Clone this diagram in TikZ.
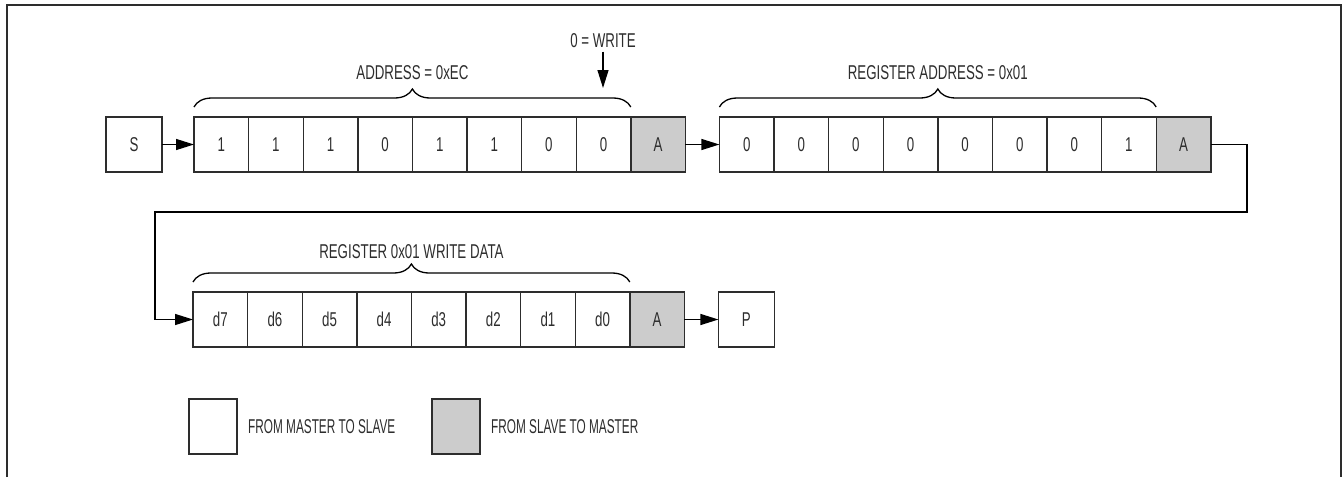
\documentclass[tikz,border=0pt]{standalone}
\usepackage{fontspec}
\setmainfont{Liberation Sans}[FakeStretch=0.665]
\newfontfamily\legendfont{Liberation Sans}[FakeStretch=0.59]
\usepackage{xcolor}
\usetikzlibrary{arrows.meta,positioning,decorations.pathreplacing}
\definecolor{mygray}{RGB}{204,204,204}
\definecolor{myink}{RGB}{45,45,45}

\begin{document}
\begin{tikzpicture}[x=1pt, y=-1pt, font=\fontsize{20}{24}\selectfont, text=myink]
    \tikzstyle{c}=[draw=myink, line width=1.4pt, minimum width=54.6pt, minimum height=55pt, inner sep=0pt, outer sep=0pt]
    \tikzstyle{ack}=[c, fill=mygray]
    \tikzstyle{arr}=[draw=black, line width=1.3pt, -{Triangle[length=18pt,width=11pt]}]
    \tikzstyle{br}=[draw=black, line width=1.3pt, decorate, decoration={brace, amplitude=18pt, raise=10pt}]
    \useasboundingbox (0,0) rectangle (1343,477);
    \draw[line width=2.5pt, myink] (7,477) -- (7,5) -- (1341,5) -- (1341,477);
    % address byte
    \node[c, minimum width=56pt] (s) at (134,144.5) {S};
    \node[c, right=32pt of s] (a7) {1};
    \node[c, right=0pt of a7] (a6) {1};
    \node[c, right=0pt of a6] (a5) {1};
    \node[c, right=0pt of a5] (a4) {0};
    \node[c, right=0pt of a4] (a3) {1};
    \node[c, right=0pt of a3] (a2) {1};
    \node[c, right=0pt of a2] (a1) {0};
    \node[c, right=0pt of a1] (a0) {0};
    \node[ack, right=0pt of a0] (ackA) {A};
    % register address byte
    \node[c, right=34pt of ackA] (r7) {0};
    \node[c, right=0pt of r7] (r6) {0};
    \node[c, right=0pt of r6] (r5) {0};
    \node[c, right=0pt of r5] (r4) {0};
    \node[c, right=0pt of r4] (r3) {0};
    \node[c, right=0pt of r3] (r2) {0};
    \node[c, right=0pt of r2] (r1) {0};
    \node[c, right=0pt of r1] (r0) {1};
    \node[ack, right=0pt of r0] (ackR) {A};
    % data byte
    \node[c, anchor=west] (d7) at (193,319.5) {d7};
    \node[c, right=0pt of d7] (d6) {d6};
    \node[c, right=0pt of d6] (d5) {d5};
    \node[c, right=0pt of d5] (d4) {d4};
    \node[c, right=0pt of d4] (d3) {d3};
    \node[c, right=0pt of d3] (d2) {d2};
    \node[c, right=0pt of d2] (d1) {d1};
    \node[c, right=0pt of d1] (d0) {d0};
    \node[ack, right=0pt of d0] (ackD) {A};
    \node[c, minimum width=56pt, right=34pt of ackD] (p) {P};
    % braces
    \draw[br] (a7.north west) -- (a0.north east) node[midway, yshift=44pt] (addr) {ADDRESS = 0xEC};
    \draw[br] (r7.north west) -- (r0.north east) node[midway, yshift=44pt] (regaddr) {REGISTER ADDRESS = 0x01};
    \draw[br] (d7.north west) -- (d0.north east) node[midway, yshift=40pt] (wdata) {REGISTER 0x01 WRITE DATA};
    \node (wr) at (603,41) {0 = WRITE};
    \coordinate (wrend) at (603,88);
    \draw[arr] (wr.south) -- (wrend);
    % connectors
    \draw[arr] (s) -- (a7);
    \draw[arr] (ackA) -- (r7);
    \coordinate (turnR) at (1247,212);
    \coordinate (turnL) at (155,212);
    \draw[arr] (ackR.east) -| (turnR) -- (turnL) |- (d7.west);
    \draw[arr] (ackD) -- (p);
    % legend
    \node[c, minimum width=48pt] (lm) at (213,426.5) {};
    \node[right=11pt of lm, inner sep=0pt, font=\legendfont\fontsize{20}{24}\selectfont] (lmtxt) {FROM MASTER TO SLAVE};
    \node[ack, minimum width=48pt] (ls) at (456,426.5) {};
    \node[right=11pt of ls, inner sep=0pt, font=\legendfont\fontsize{20}{24}\selectfont] (lstxt) {FROM SLAVE TO MASTER};
\end{tikzpicture}
\end{document}
